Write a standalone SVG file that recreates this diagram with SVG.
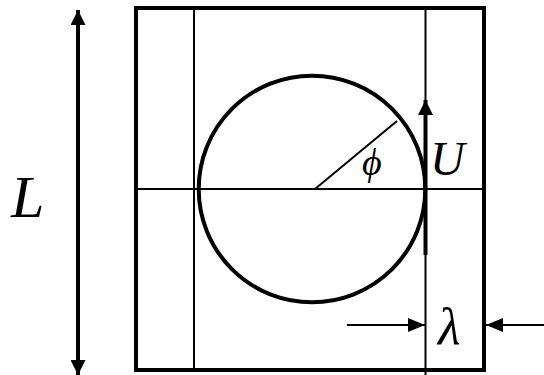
<svg xmlns="http://www.w3.org/2000/svg" width="544" height="375" viewBox="0 0 544 375">
<style>
.thin{stroke:#000;stroke-width:2;fill:none}
.thick{stroke:#000;stroke-width:4;fill:none}
.lbl{font-family:"Liberation Serif","Times New Roman",serif;font-style:italic;fill:#000}
</style>
<defs>
<marker id="ah" markerWidth="15" markerHeight="15" refX="15" refY="7.5" orient="auto" markerUnits="userSpaceOnUse">
<path d="M0,0 L15,7.5 L0,15 Z" fill="#000"/>
</marker>
<marker id="ahs" markerWidth="17" markerHeight="14" refX="17" refY="7" orient="auto" markerUnits="userSpaceOnUse">
<path d="M0,0 L17,7 L0,14 Z" fill="#000"/>
</marker>
</defs>
<g id="box">
<rect x="136" y="8" width="348" height="362" class="thick"/>
<line x1="194" y1="8" x2="194" y2="370" class="thin"/>
<line x1="425.5" y1="8" x2="425.5" y2="375" class="thin"/>
<line x1="136" y1="189" x2="484" y2="189" class="thin"/>
</g>
<g id="circle">
<circle cx="312" cy="189" r="113.3" class="thick"/>
<line x1="315" y1="189" x2="397" y2="121" class="thin"/>
</g>
<g id="connectors">
<line x1="78" y1="28" x2="78" y2="10" class="thick" marker-end="url(#ah)"/>
<line x1="78" y1="28" x2="78" y2="375" class="thick" marker-end="url(#ah)"/>
<line x1="425.5" y1="255" x2="425.5" y2="100" class="thick" marker-end="url(#ah)"/>
<line x1="347" y1="325" x2="425" y2="325" class="thin" marker-end="url(#ahs)"/>
<line x1="544" y1="325" x2="486" y2="325" class="thin" marker-end="url(#ahs)"/>
</g>
<g id="labels">
<text x="11" y="217" class="lbl" font-size="60">L</text>
<text x="430" y="175" class="lbl" font-size="48">U</text>
<text x="362" y="175" class="lbl" font-size="38">ϕ</text>
<text x="438" y="344" class="lbl" font-size="52">λ</text>
</g>
</svg>
